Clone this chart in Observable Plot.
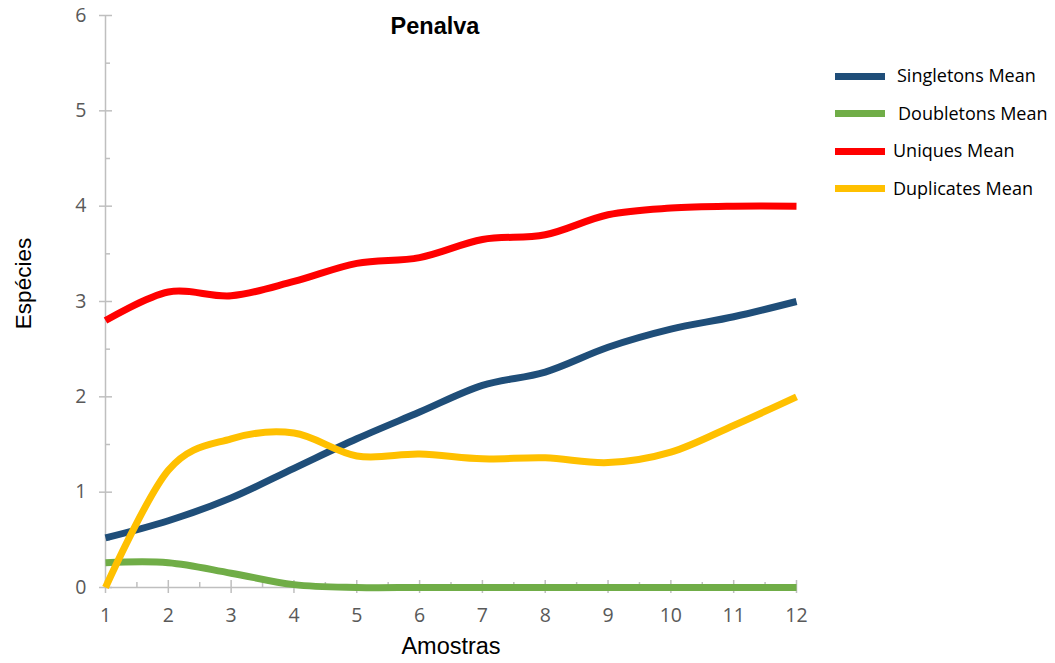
<!DOCTYPE html>
<html>
<head>
<meta charset="utf-8">
<script src="https://cdn.jsdelivr.net/npm/d3@7"></script>
<script src="https://cdn.jsdelivr.net/npm/@observablehq/plot@0.6"></script>
<style>
  html, body { margin: 0; padding: 0; background: #fff; }
  #chart { position: relative; width: 1055px; height: 663px; }
  #chart svg { display: block; }
  .legend { position: absolute; left: 0; top: 0; font-family: "Open Sans", sans-serif; font-size: 18px; color: #000; }
  .legend .item { position: absolute; height: 20px; white-space: nowrap; }
  .legend .swatch { position: absolute; left: 0; top: 6.5px; width: 50px; height: 7px; }
  .legend .label { position: absolute; top: -3px; line-height: 24px; }
</style>
</head>
<body>
<div id="chart"></div>
<script>
// Sample number (Amostras)
const samples = [1, 2, 3, 4, 5, 6, 7, 8, 9, 10, 11, 12];

// Mean species counts per accumulation curve
const singletonsMean = [0.52, 0.70, 0.94, 1.25, 1.56, 1.84, 2.12, 2.26, 2.52, 2.71, 2.84, 3.00];
const doubletonsMean = [0.26, 0.26, 0.15, 0.03, 0.00, 0.00, 0.00, 0.00, 0.00, 0.00, 0.00, 0.00];
const uniquesMean    = [2.80, 3.10, 3.06, 3.21, 3.40, 3.46, 3.65, 3.70, 3.91, 3.98, 4.00, 4.00];
const duplicatesMean = [0.00, 1.23, 1.56, 1.62, 1.38, 1.40, 1.35, 1.36, 1.31, 1.42, 1.70, 2.00];

const seriesNames  = ["Singletons Mean", "Doubletons Mean", "Uniques Mean", "Duplicates Mean"];
const seriesColors = ["#1f4e79", "#70ad47", "#ff0000", "#ffc000"];
const seriesValues = [singletonsMean, doubletonsMean, uniquesMean, duplicatesMean];

// Axis ticks
const xTicks = samples;
const xMinorTicks = [1.5, 2.5, 3.5, 4.5, 5.5, 6.5, 7.5, 8.5, 9.5, 10.5, 11.5];
const yTicks = [0, 1, 2, 3, 4, 5, 6];
const yMinorTicks = [0.5, 1.5, 2.5, 3.5, 4.5, 5.5];

// Long-format table for the line mark
const rows = seriesNames.flatMap((name, s) =>
  samples.map((x, i) => ({series: name, x, y: seriesValues[s][i]}))
);

const axisColor = "#bfbfbf";
const tickFont = {fontFamily: "Open Sans, sans-serif", fontSize: 19.5, fill: "#595959"};
const titleFont = {fontFamily: "Liberation Sans, Arial, sans-serif", fill: "#000", lineAnchor: "middle", textAnchor: "middle"};

const chart = Plot.plot({
  width: 1055,
  height: 663,
  marginLeft: 105,
  marginRight: 259,
  marginTop: 15,
  marginBottom: 76,
  x: {domain: [1, 12], axis: null},
  y: {domain: [0, 6], axis: null},
  color: {domain: seriesNames, range: seriesColors},
  marks: [
    // axis lines
    Plot.ruleY([0], {x1: 1, x2: 12, stroke: axisColor, strokeWidth: 1.5}),
    Plot.ruleX([1], {y1: 0, y2: 6, stroke: axisColor, strokeWidth: 1.5}),
    // x ticks: major crossing the axis, minor above it
    Plot.ruleX(xTicks, {x: d => d, y1: 0, y2: 0, insetTop: -7, insetBottom: -6, stroke: axisColor, strokeWidth: 1.5}),
    Plot.ruleX(xMinorTicks, {x: d => d, y1: 0, y2: 0, insetTop: -5, insetBottom: 0, stroke: axisColor, strokeWidth: 1.5}),
    // y ticks: major crossing the axis, minor to the right
    Plot.ruleY(yTicks, {y: d => d, x1: 1, x2: 1, insetLeft: -6, insetRight: -7, stroke: axisColor, strokeWidth: 1.5}),
    Plot.ruleY(yMinorTicks, {y: d => d, x1: 1, x2: 1, insetLeft: 0, insetRight: -5, stroke: axisColor, strokeWidth: 1.5}),
    // tick labels
    Plot.text(xTicks, {x: d => d, y: 0, dy: 28, text: d => String(d), ...tickFont}),
    Plot.text(yTicks, {x: 1, y: d => d, dx: -19, text: d => String(d), textAnchor: "end", ...tickFont}),
    // series
    Plot.line(rows, {
      x: "x", y: "y", z: "series", stroke: "series",
      curve: "cardinal", strokeWidth: 7, strokeLinecap: "butt", strokeLinejoin: "round"
    }),
    // titles
    Plot.text(["Penalva"], {text: d => d, frameAnchor: "top", dx: -16, dy: 11,
      fontSize: 23.5, fontWeight: "bold", ...titleFont}),
    Plot.text(["Amostras"], {text: d => d, frameAnchor: "bottom", dy: 59,
      fontSize: 23.5, ...titleFont}),
    Plot.text(["Espécies"], {text: d => d, frameAnchor: "left", dx: -82, dy: -18, rotate: -90,
      fontSize: 22.5, ...titleFont})
  ]
});

const root = document.getElementById("chart");
root.appendChild(chart);

// Legend to the right of the plot area
const legendLabelLeft = [62, 63, 58, 58];
const legend = document.createElement("div");
legend.className = "legend";
seriesNames.forEach((name, i) => {
  const item = document.createElement("div");
  item.className = "item";
  item.style.left = "835px";
  item.style.top = (66 + i * 37.5) + "px";
  const sw = document.createElement("div");
  sw.className = "swatch";
  sw.style.background = seriesColors[i];
  const lb = document.createElement("div");
  lb.className = "label";
  lb.style.left = legendLabelLeft[i] + "px";
  lb.textContent = name;
  item.appendChild(sw);
  item.appendChild(lb);
  legend.appendChild(item);
});
root.appendChild(legend);
</script>
</body>
</html>
